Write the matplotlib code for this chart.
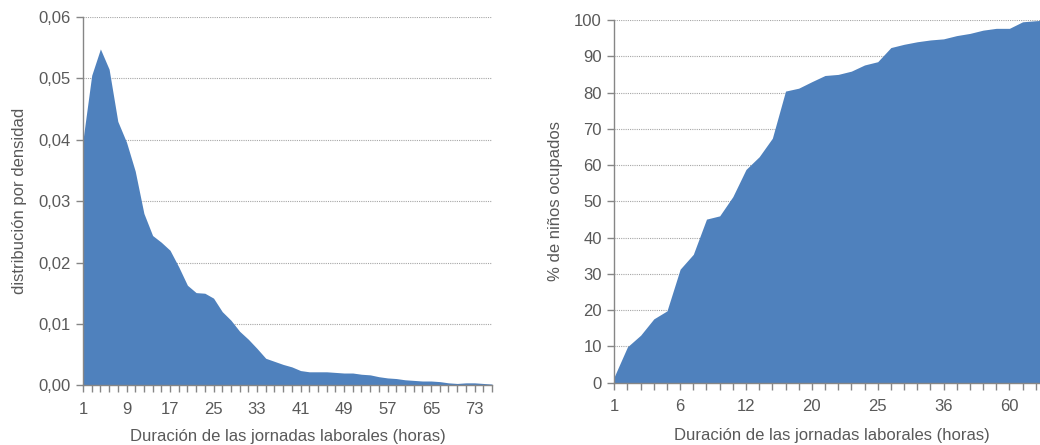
import numpy as np
import matplotlib
matplotlib.use("Agg")
import matplotlib.pyplot as plt
from matplotlib import font_manager

# Condensed sans if available, otherwise the regular one
families = [f.name for f in font_manager.fontManager.ttflist]
base_font = "Liberation Sans Narrow" if "Liberation Sans Narrow" in families else "Liberation Sans"
plt.rcParams["font.family"] = [base_font, "DejaVu Sans"]

# ---- Data: density of working hours ----
hours_density = [1, 3, 4, 6, 7, 9, 11, 12, 14, 15, 17, 19, 20, 22, 23, 25,
                 27, 28, 30, 31, 33, 35, 36, 38, 39, 41, 43, 44, 46, 47, 49,
                 51, 52, 54, 55, 57, 59, 60, 62, 63, 65, 67, 68, 70, 71, 73,
                 75, 76]
density = [0.0400, 0.0505, 0.0548, 0.0515, 0.0430, 0.0396, 0.0349, 0.0280,
           0.0244, 0.0233, 0.0220, 0.0193, 0.0163, 0.0151, 0.0150, 0.0142,
           0.0120, 0.0106, 0.0088, 0.0075, 0.0060, 0.0044, 0.0039, 0.0034,
           0.0030, 0.0024, 0.0022, 0.0022, 0.0022, 0.0021, 0.0020, 0.0020,
           0.0018, 0.0017, 0.0014, 0.0012, 0.0011, 0.0009, 0.0008, 0.0007,
           0.0007, 0.0006, 0.0004, 0.0003, 0.0004, 0.0004, 0.0003, 0.0002]

# ---- Data: cumulative share of working children ----
hours_cum = [1, 2, 3, 4, 5, 6, 7, 8, 9, 10, 12, 14, 15, 16, 18, 20, 21, 22,
             23, 24, 25, 28, 30, 32, 35, 36, 40, 42, 45, 48, 60, 70, 72, 84]
cum_pct = [1.7, 9.9, 13.1, 17.6, 19.8, 31.3, 35.4, 45.1, 46.0, 51.3, 58.8,
           62.3, 67.4, 80.4, 81.2, 83.0, 84.7, 85.0, 85.9, 87.6, 88.5, 92.4,
           93.3, 94.0, 94.5, 94.8, 95.7, 96.3, 97.2, 97.7, 97.7, 99.5, 99.8,
           100.0]

FILL = "#4F81BD"
AXIS = "#868686"
TEXT = "#595959"
GRID = "#A6A6A6"
XLABEL = "Duración de las jornadas laborales (horas)"

fig = plt.figure(figsize=(10.4, 4.45), dpi=100)


def style_axes(ax):
    for side in ("top", "right"):
        ax.spines[side].set_visible(False)
    for side in ("left", "bottom"):
        ax.spines[side].set_color(AXIS)
        ax.spines[side].set_linewidth(1.0)
    ax.tick_params(axis="both", colors=AXIS, labelcolor=TEXT, labelsize=12,
                   direction="out", length=5, width=1.0)
    ax.tick_params(axis="x", pad=7)
    ax.tick_params(axis="y", pad=4)
    ax.yaxis.grid(True, color=GRID, linestyle=(0, (1, 1)), linewidth=0.8)
    ax.set_axisbelow(True)


# Left panel: density
ax1 = fig.add_axes([83 / 1040, 1 - 385.3 / 445, 409 / 1040, 368.3 / 445])
x1 = np.arange(len(density))
ax1.fill_between(x1, 0, density, color=FILL, linewidth=0, zorder=2)
ax1.set_xlim(0, len(density) - 1)
ax1.set_ylim(0, 0.06)
yt1 = np.arange(0, 0.0601, 0.01)
ax1.set_yticks(yt1)
ax1.set_yticklabels([f"{v:.2f}".replace(".", ",") for v in yt1])
ax1.set_xticks(x1)
ax1.set_xticklabels([str(h) if i % 5 == 0 else "" for i, h in enumerate(hours_density)])
style_axes(ax1)
ax1.set_xlabel(XLABEL, fontsize=12, color=TEXT, labelpad=9)
ax1.set_ylabel("distribución por densidad", fontsize=12, color=TEXT, labelpad=8)

# Right panel: cumulative percentage
step = 13.17
ax2 = fig.add_axes([614.3 / 1040, 1 - 382.7 / 445,
                    step * (len(cum_pct) - 1) / 1040, 362.7 / 445])
x2 = np.arange(len(cum_pct))
ax2.fill_between(x2, 0, cum_pct, color=FILL, linewidth=0, zorder=2)
ax2.set_xlim(0, len(cum_pct) - 1)
ax2.set_ylim(0, 100)
ax2.set_yticks(np.arange(0, 101, 10))
ax2.set_xticks(x2)
ax2.set_xticklabels([str(h) if i % 5 == 0 else "" for i, h in enumerate(hours_cum)])
style_axes(ax2)
ax2.set_xlabel(XLABEL, fontsize=12, color=TEXT, labelpad=10)
ax2.set_ylabel("% de niños ocupados", fontsize=12, color=TEXT, labelpad=8)

fig.savefig("out.png", dpi=100)
